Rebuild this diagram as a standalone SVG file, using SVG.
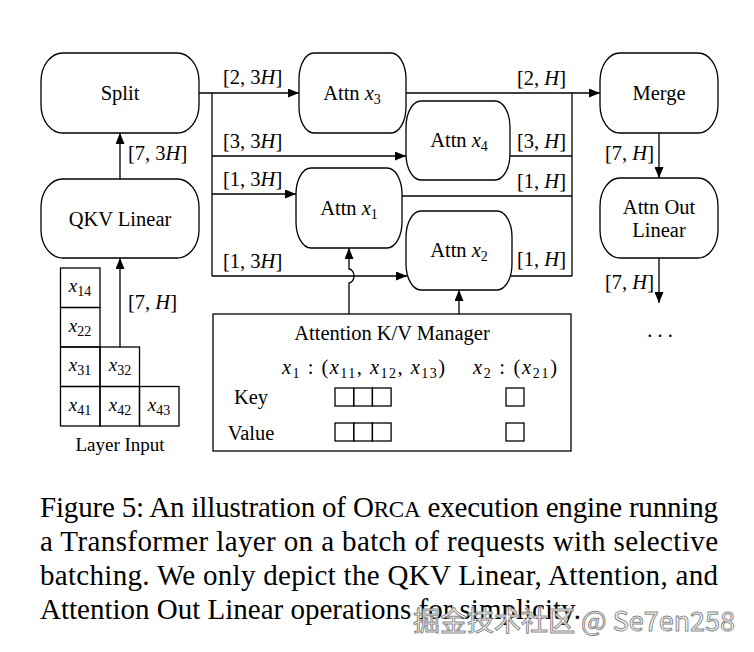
<svg xmlns="http://www.w3.org/2000/svg" width="754" height="652" viewBox="0 0 754 652">
<style>
.node{fill:#fff;stroke:#000;stroke-width:1.3}
.box{fill:none;stroke:#000;stroke-width:1.3}
.ln{fill:none;stroke:#000;stroke-width:1.3}
text{font-family:"Liberation Serif","Times New Roman",serif;fill:#000}
.t{font-size:20.5px;text-anchor:middle}
.l{font-size:20.5px}
.g{font-size:19px;text-anchor:middle}
.i{font-style:italic}
.s{font-size:14px}
.cap{font-size:29px}
.wm{font-family:"Noto Sans CJK SC","Noto Sans",sans-serif;font-size:27px;fill:#fff;stroke:#8a8a8a;stroke-width:1}
</style>
<defs>
<marker id="ah" markerUnits="userSpaceOnUse" markerWidth="11" markerHeight="9" refX="11" refY="4.5" orient="auto">
<path d="M0,0 L11,4.5 L0,9 z" fill="#000"/>
</marker>
</defs>
<rect width="754" height="652" fill="#fff"/>

<g id="connectors">
<path class="ln" d="M199,93 H299" marker-end="url(#ah)"/>
<path class="ln" d="M212,93 V276"/>
<path class="ln" d="M212,156 H406" marker-end="url(#ah)"/>
<path class="ln" d="M212,194 H296" marker-end="url(#ah)"/>
<path class="ln" d="M212,276 H407" marker-end="url(#ah)"/>
<path class="ln" d="M406,93 H600" marker-end="url(#ah)"/>
<path class="ln" d="M572,93 V276"/>
<path class="ln" d="M510,156 H572"/>
<path class="ln" d="M402,196 H572"/>
<path class="ln" d="M510,276 H572"/>
<path class="ln" d="M659,133 V178" marker-end="url(#ah)"/>
<path class="ln" d="M659,258 V303" marker-end="url(#ah)"/>
<path class="ln" d="M120,179 V133" marker-end="url(#ah)"/>
<path class="ln" d="M120,347 V258" marker-end="url(#ah)"/>
<path class="ln" d="M349,314 V283 A5,7 0 0 0 349,269 V248" marker-end="url(#ah)"/>
<path class="ln" d="M459,314 V290" marker-end="url(#ah)"/>
<text class="l" x="223" y="84">[2, 3<tspan class="i">H</tspan>]</text>
<text class="l" x="223" y="148">[3, 3<tspan class="i">H</tspan>]</text>
<text class="l" x="223" y="186">[1, 3<tspan class="i">H</tspan>]</text>
<text class="l" x="223" y="268">[1, 3<tspan class="i">H</tspan>]</text>
<text class="l" x="128" y="160">[7, 3<tspan class="i">H</tspan>]</text>
<text class="l" x="128" y="309">[7, <tspan class="i">H</tspan>]</text>
<text class="l" x="517" y="85">[2, <tspan class="i">H</tspan>]</text>
<text class="l" x="517" y="148">[3, <tspan class="i">H</tspan>]</text>
<text class="l" x="517" y="188">[1, <tspan class="i">H</tspan>]</text>
<text class="l" x="517" y="266">[1, <tspan class="i">H</tspan>]</text>
<text class="l" x="605" y="160">[7, <tspan class="i">H</tspan>]</text>
<text class="l" x="605" y="289">[7, <tspan class="i">H</tspan>]</text>
</g>

<g id="split">
<rect class="node" x="41" y="53" width="158" height="80" rx="22" ry="28"/>
<text class="t" x="120" y="100">Split</text>
</g>
<g id="qkv">
<rect class="node" x="41" y="179" width="158" height="79" rx="22" ry="28"/>
<text class="t" x="120" y="226">QKV Linear</text>
</g>
<g id="attn3">
<rect class="node" x="299" y="53" width="107" height="80" rx="15" ry="26"/>
<text class="t" x="352" y="100">Attn <tspan class="i">x</tspan><tspan class="s" dy="4">3</tspan></text>
</g>
<g id="attn4">
<rect class="node" x="406" y="101" width="104" height="79" rx="15" ry="26"/>
<text class="t" x="459" y="147">Attn <tspan class="i">x</tspan><tspan class="s" dy="4">4</tspan></text>
</g>
<g id="attn1">
<rect class="node" x="296" y="168" width="106" height="80" rx="15" ry="26"/>
<text class="t" x="349" y="215">Attn <tspan class="i">x</tspan><tspan class="s" dy="4">1</tspan></text>
</g>
<g id="attn2">
<rect class="node" x="406" y="211" width="106" height="79" rx="15" ry="26"/>
<text class="t" x="459" y="257">Attn <tspan class="i">x</tspan><tspan class="s" dy="4">2</tspan></text>
</g>
<g id="merge">
<rect class="node" x="600" y="53" width="118" height="80" rx="20" ry="28"/>
<text class="t" x="659" y="100">Merge</text>
</g>
<g id="attnout">
<rect class="node" x="600" y="178" width="118" height="80" rx="20" ry="28"/>
<text class="t" x="659" y="214">Attn Out</text>
<text class="t" x="659" y="237">Linear</text>
</g>
<g id="more">
<text class="t" x="660" y="337">. . .</text>
</g>

<g id="layer-input">
<rect class="box" x="60.5" y="268" width="39.5" height="39.5"/>
<rect class="box" x="60.5" y="307.5" width="39.5" height="39.5"/>
<rect class="box" x="60.5" y="347" width="39.5" height="39.5"/>
<rect class="box" x="60.5" y="386.5" width="39.5" height="39.5"/>
<rect class="box" x="100" y="347" width="39.5" height="39.5"/>
<rect class="box" x="100" y="386.5" width="39.5" height="39.5"/>
<rect class="box" x="139.5" y="386.5" width="39.5" height="39.5"/>
<text class="g" x="80" y="292"><tspan class="i">x</tspan><tspan class="s" dy="4">14</tspan></text>
<text class="g" x="80" y="331.5"><tspan class="i">x</tspan><tspan class="s" dy="4">22</tspan></text>
<text class="g" x="80" y="371"><tspan class="i">x</tspan><tspan class="s" dy="4">31</tspan></text>
<text class="g" x="80" y="410.5"><tspan class="i">x</tspan><tspan class="s" dy="4">41</tspan></text>
<text class="g" x="120" y="371"><tspan class="i">x</tspan><tspan class="s" dy="4">32</tspan></text>
<text class="g" x="120" y="410.5"><tspan class="i">x</tspan><tspan class="s" dy="4">42</tspan></text>
<text class="g" x="159" y="410.5"><tspan class="i">x</tspan><tspan class="s" dy="4">43</tspan></text>
<text class="t" x="120" y="451" style="font-size:19px">Layer Input</text>
</g>

<g id="kv-manager">
<rect class="box" x="213" y="314" width="358" height="137"/>
<text class="t" x="392" y="340">Attention K/V Manager</text>
<text class="l" x="282" y="374" textLength="163" lengthAdjust="spacing"><tspan class="i">x</tspan><tspan class="s" dy="4">1</tspan><tspan dy="-4"> : (</tspan><tspan class="i">x</tspan><tspan class="s" dy="4">11</tspan><tspan dy="-4">, </tspan><tspan class="i">x</tspan><tspan class="s" dy="4">12</tspan><tspan dy="-4">, </tspan><tspan class="i">x</tspan><tspan class="s" dy="4">13</tspan><tspan dy="-4">)</tspan></text>
<text class="l" x="473" y="374" textLength="84" lengthAdjust="spacing"><tspan class="i">x</tspan><tspan class="s" dy="4">2</tspan><tspan dy="-4"> : (</tspan><tspan class="i">x</tspan><tspan class="s" dy="4">21</tspan><tspan dy="-4">)</tspan></text>
<text class="t" x="251" y="404">Key</text>
<text class="t" x="251" y="440">Value</text>
<rect class="box" x="335" y="388" width="18.7" height="18"/>
<rect class="box" x="353.7" y="388" width="18.7" height="18"/>
<rect class="box" x="372.4" y="388" width="18.7" height="18"/>
<rect class="box" x="335" y="423" width="18.7" height="18"/>
<rect class="box" x="353.7" y="423" width="18.7" height="18"/>
<rect class="box" x="372.4" y="423" width="18.7" height="18"/>
<rect class="box" x="506" y="388" width="18" height="18"/>
<rect class="box" x="506" y="423" width="18" height="18"/>
</g>

<g id="caption">
<text class="cap" x="40" y="517" textLength="678" lengthAdjust="spacing">Figure 5: An illustration of O<tspan style="font-size:23px">RCA</tspan> execution engine running</text>
<text class="cap" x="40" y="551" textLength="678" lengthAdjust="spacing">a Transformer layer on a batch of requests with selective</text>
<text class="cap" x="40" y="585" textLength="678" lengthAdjust="spacing">batching. We only depict the QKV Linear, Attention, and</text>
<text class="cap" x="40" y="619">Attention Out Linear operations for simplicity.</text>
<text class="wm" x="413" y="631">掘金技术社区 @ Se7en258</text>
</g>
</svg>
